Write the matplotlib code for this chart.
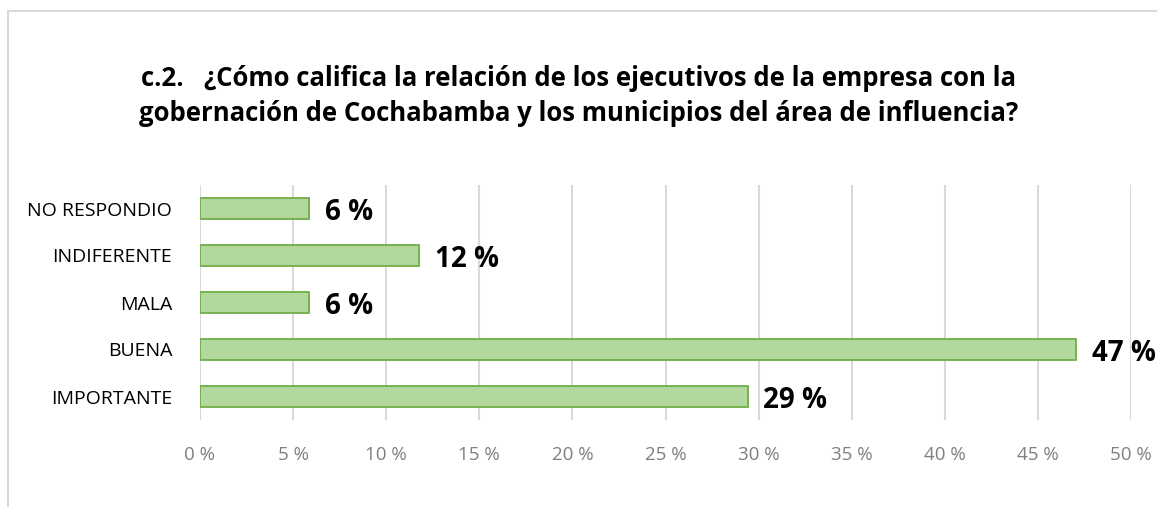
import matplotlib
matplotlib.use("Agg")
import matplotlib.pyplot as plt
from matplotlib.patches import Rectangle
from matplotlib.ticker import MultipleLocator, FuncFormatter

categories = ["IMPORTANTE", "BUENA", "MALA", "INDIFERENTE", "NO RESPONDIO"]
values = [29.41, 47.06, 5.88, 11.76, 5.88]
labels = ["29 %", "47 %", "6 %", "12 %", "6 %"]
title = ("c.2.   ¿Cómo califica la relación de los ejecutivos de la empresa con la\n"
         "gobernación de Cochabamba y los municipios del área de influencia?")

plt.rcParams['font.family'] = ['Open Sans', 'DejaVu Sans']

W, H = 1157, 507
fig = plt.figure(figsize=(W / 100, H / 100), dpi=100)
fig.patch.set_facecolor("white")

# outer chart frame
fig.add_artist(Rectangle((8 / W, -0.1), 1.2, 1 - 11 / H + 0.1, transform=fig.transFigure,
                         fill=False, edgecolor="#d9d9d9", linewidth=1.5))

ax = fig.add_axes([200 / W, 1 - 420 / H, (1131 - 200) / W, (420 - 185) / H])
y = list(range(len(categories)))
ax.barh(y, values, height=0.43, color="#b3d89e", edgecolor="#70ad47", linewidth=1.3, zorder=3)
ax.set_yticks(y)
ax.set_yticklabels(categories, fontsize=14, color="black")
ax.set_ylim(-0.5, len(categories) - 0.5)
ax.set_xlim(0, 50)
ax.xaxis.set_major_locator(MultipleLocator(5))
ax.xaxis.set_major_formatter(FuncFormatter(lambda v, p: f"{v:.0f} %"))
ax.tick_params(axis="x", colors="#7f7f7f", labelsize=13.5, length=0, pad=19)
ax.tick_params(axis="y", length=0, pad=20)
for lab in ax.get_xticklabels():
    lab.set_color("#7f7f7f")
ax.grid(axis="x", color="#d9d9d9", linewidth=1.5, zorder=0)
for s in ax.spines.values():
    s.set_visible(False)

for yi, v, t in zip(y, values, labels):
    ax.text(v + 0.85, yi - 0.08, t, va="center", ha="left", fontsize=20,
            fontweight="bold", color="black")

fig.text(0.5, 1 - 96 / H, title, ha="center", va="center", fontsize=18.5,
         fontweight="bold", color="black", linespacing=1.4)

fig.savefig("out.png", dpi=100)
